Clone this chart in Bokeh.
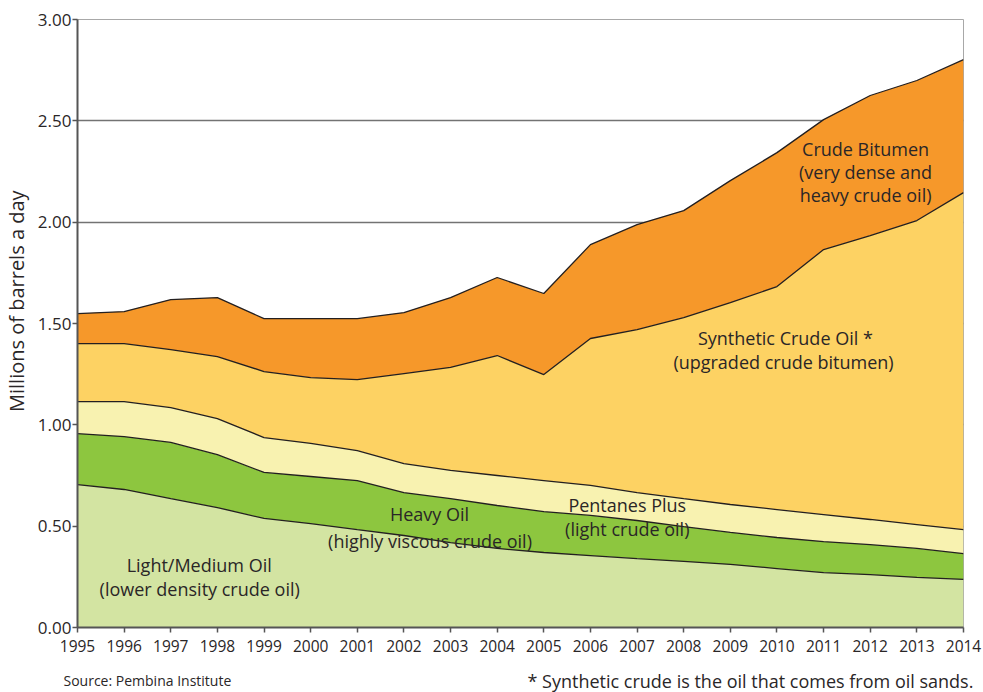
import numpy as np
from bokeh.plotting import figure
from bokeh.layouts import column
from bokeh.models import (Label, NumeralTickFormatter, FixedTicker, Range1d, ColumnDataSource,
                          LinearAxis, CustomJSTickFormatter)
from bokeh.embed import file_html
from bokeh.resources import INLINE

# ---- data (millions of barrels a day) ----
years = list(range(1995, 2015))
light_medium = [0.705, 0.681, 0.636, 0.592, 0.538, 0.513, 0.483, 0.454, 0.419, 0.390,
                0.370, 0.355, 0.340, 0.326, 0.311, 0.291, 0.271, 0.261, 0.247, 0.237]
heavy_oil = [0.252, 0.261, 0.277, 0.261, 0.227, 0.232, 0.242, 0.212, 0.217, 0.212,
             0.202, 0.198, 0.188, 0.172, 0.158, 0.153, 0.153, 0.148, 0.143, 0.128]
pentanes_plus = [0.158, 0.173, 0.172, 0.178, 0.172, 0.163, 0.148, 0.143, 0.139, 0.148,
                 0.153, 0.148, 0.138, 0.138, 0.138, 0.138, 0.133, 0.124, 0.118, 0.118]
synthetic_crude = [0.286, 0.286, 0.286, 0.306, 0.326, 0.325, 0.350, 0.444, 0.508, 0.592,
                   0.523, 0.725, 0.804, 0.893, 0.996, 1.100, 1.308, 1.401, 1.500, 1.663]
crude_bitumen = [0.148, 0.158, 0.247, 0.291, 0.261, 0.291, 0.301, 0.301, 0.345, 0.385,
                 0.400, 0.463, 0.518, 0.528, 0.602, 0.661, 0.641, 0.691, 0.691, 0.656]
y_ticks = [0, 0.5, 1.0, 1.5, 2.0, 2.5, 3.0]

series = ["light_medium", "heavy_oil", "pentanes_plus", "synthetic_crude", "crude_bitumen"]
colors = ["#D3E4A2", "#8DC63F", "#F8F2B0", "#FDD263", "#F6982A"]

FONT = "Open Sans"
TXT = "#2a2627"

src = ColumnDataSource(dict(year=years, light_medium=light_medium, heavy_oil=heavy_oil,
                            pentanes_plus=pentanes_plus, synthetic_crude=synthetic_crude,
                            crude_bitumen=crude_bitumen))

p = figure(width=983, height=660, x_range=Range1d(1995, 2014), y_range=Range1d(0, 3),
           output_backend="svg", toolbar_location=None,
           min_border_left=77, min_border_right=20, min_border_top=19, min_border_bottom=33)

p.varea_stack(series, x="year", color=colors, source=src)

stack = np.cumsum(np.array([light_medium, heavy_oil, pentanes_plus, synthetic_crude, crude_bitumen]), axis=0)
for row in stack:
    p.line(years, row, line_color="#231f20", line_width=1.3)

# axes / grid
p.xgrid.visible = False
p.ygrid.ticker = FixedTicker(ticks=y_ticks)
p.ygrid.grid_line_color = "#737373"
p.ygrid.grid_line_width = 1.5
p.outline_line_color = "#a8a8a8"
p.outline_line_width = 1
p.background_fill_color = "white"
p.border_fill_color = "white"

p.xaxis.ticker = FixedTicker(ticks=years)
p.yaxis.ticker = FixedTicker(ticks=y_ticks)
p.yaxis.formatter = NumeralTickFormatter(format="0.00")
for ax in (p.xaxis, p.yaxis):
    ax.axis_line_color = "#555555"
    ax.axis_line_width = 2
    ax.major_tick_line_color = "#555555"
    ax.major_tick_line_width = 1.5
    ax.major_tick_out = 5
    ax.major_tick_in = 0
    ax.minor_tick_line_color = None
    ax.major_label_text_font = FONT
    ax.major_label_text_color = TXT
p.xaxis.major_label_text_font_size = "15.5px"
p.yaxis.major_label_text_font_size = "17px"
p.xaxis.major_label_standoff = 7
p.yaxis.major_label_standoff = 1

# y-axis title: a bare extra axis carrying one label, so it can sit off-centre
title_axis = LinearAxis(ticker=FixedTicker(ticks=[1.61]),
                        formatter=CustomJSTickFormatter(code="return 'Millions of barrels a day';"),
                        major_label_orientation="vertical", major_label_standoff=4,
                        axis_line_color=None, major_tick_line_color=None,
                        minor_tick_line_color=None, major_tick_out=0, major_tick_in=0,
                        major_label_text_font=FONT, major_label_text_font_size="20px",
                        major_label_text_color=TXT)
p.add_layout(title_axis, "left")

# area labels
labels = [
    ("Light/Medium Oil", 1997.61, 0.306),
    ("(lower density crude oil)", 1997.62, 0.192),
    ("Heavy Oil", 2002.55, 0.558),
    ("(highly viscous crude oil)", 2002.56, 0.429),
    ("Pentanes Plus", 2006.79, 0.602),
    ("(light crude oil)", 2006.79, 0.484),
    ("Synthetic Crude Oil *", 2010.18, 1.426),
    ("(upgraded crude bitumen)", 2010.14, 1.308),
    ("Crude Bitumen", 2011.90, 2.363),
    ("(very dense and", 2011.90, 2.250),
    ("heavy crude oil)", 2011.90, 2.132),
]
for t, x, y in labels:
    p.add_layout(Label(x=x, y=y, text=t, text_font=FONT, text_font_size="18px",
                       text_color=TXT, text_align="center", text_baseline="middle"))

# footnote strip (pixel-based coordinates)
foot = figure(width=983, height=32, x_range=Range1d(0, 983), y_range=Range1d(0, 32),
              output_backend="svg", toolbar_location=None,
              x_axis_location=None, y_axis_location=None,
              min_border_left=0, min_border_right=0, min_border_top=0, min_border_bottom=0)
foot.grid.visible = False
foot.outline_line_color = None
foot.add_layout(Label(x=63, y=12, text="Source: Pembina Institute",
                      text_font=FONT, text_font_size="14px", text_color=TXT,
                      text_align="left", text_baseline="alphabetic"))
foot.add_layout(Label(x=527, y=12, text="*  Synthetic crude is the oil that comes from oil sands.",
                      text_font=FONT, text_font_size="18px", text_color=TXT,
                      text_align="left", text_baseline="alphabetic"))

for fig in (p, foot):
    try:
        fig.frame_align = False
    except Exception:
        pass

layout = column(p, foot, spacing=0)
open("out.html", "w").write(file_html(layout, INLINE))
